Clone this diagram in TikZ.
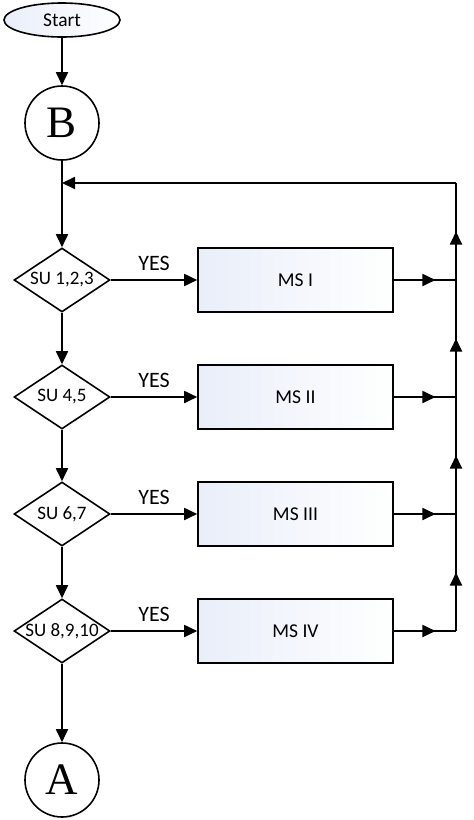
\documentclass[tikz,border=0pt]{standalone}
\usepackage{fontspec}
\setmainfont{Carlito}
\newfontfamily\letterfont{Liberation Serif}
\usetikzlibrary{shapes.geometric,arrows.meta,decorations.markings}
\definecolor{boxtop}{RGB}{233,238,249}

\begin{document}
\begin{tikzpicture}
      [
      x=0.5pt, y=-0.5pt,
      wire/.style={draw=black,line width=0.9pt},
      flow/.style={wire,-{Triangle[length=6.5pt,width=6pt]}},
      midflow/.style={wire,postaction={decorate},
        decoration={markings,mark=at position #1 with {\arrow{Triangle[length=6.5pt,width=6pt]}}}},
      terminal/.style={ellipse,draw,line width=0.8pt,left color=boxtop,right color=white,
        minimum width=58pt,minimum height=17pt,inner sep=0pt,font=\fontsize{9.7}{11}\selectfont},
      connector/.style={circle,draw,line width=0.8pt,fill=white,minimum size=37pt,inner sep=0pt,
        font=\letterfont\fontsize{22.5}{24}\selectfont},
      decision/.style={diamond,draw,line width=0.8pt,fill=white,minimum width=48pt,minimum height=32pt,inner sep=0pt},
      sutext/.style={font=\fontsize{9.5}{11}\selectfont,inner sep=0pt},
      process/.style={rectangle,draw,line width=0.8pt,left color=boxtop,right color=white,
        minimum width=97.5pt,minimum height=32pt,inner sep=0pt,font=\fontsize{9.8}{11}\selectfont},
      yes/.style={above=1pt,font=\fontsize{11}{13}\selectfont},
      ]
      \useasboundingbox (0,0) rectangle (474,820);
      % main column
      \node[terminal] (start) at (62,20) {Start};
      \node[connector] (b) at (62,123) {B};
      \node[decision,label={[sutext]center:{SU 1,2,3}}] (d1) at (62,280) {};
      \node[decision,label={[sutext]center:{SU 4,5}}] (d2) at (62,397) {};
      \node[decision,label={[sutext]center:{SU 6,7}}] (d3) at (62,514) {};
      \node[decision,label={[sutext]center:{SU 8,9,10}}] (d4) at (62,631) {};
      \node[connector] (a) at (62,780) {A};
      % mode boxes
      \node[process] (ms1) at (295.5,280) {MS I};
      \node[process] (ms2) at (295.5,397) {MS II};
      \node[process] (ms3) at (295.5,514) {MS III};
      \node[process] (ms4) at (295.5,631) {MS IV};
      % return line
      \coordinate (j1) at (456,280);
      \coordinate (j2) at (456,397);
      \coordinate (j3) at (456,514);
      \coordinate (j4) at (456,631);
      \coordinate (top) at (456,183);
      \coordinate (join) at (62,183);

      \draw[flow] (start) -- (b);
      \draw[flow] (b) -- (d1);
      \draw[flow] (d1) -- (d2);
      \draw[flow] (d2) -- (d3);
      \draw[flow] (d3) -- (d4);
      \draw[flow] (d4) -- (a);
      {
        \draw[flow] (d1) -- node[yes] {YES} (ms1);
        \draw[flow] (d2) -- node[yes] {YES} (ms2);
        \draw[flow] (d3) -- node[yes] {YES} (ms3);
        \draw[flow] (d4) -- node[yes] {YES} (ms4);
      }
      \draw[midflow=0.67] (ms1.east) -- (j1);
      \draw[midflow=0.67] (ms2.east) -- (j2);
      \draw[midflow=0.67] (ms3.east) -- (j3);
      \draw[midflow=0.67] (ms4.east) -- (j4);
      \draw[midflow=0.5] (j4) -- (j3);
      \draw[midflow=0.5] (j3) -- (j2);
      \draw[midflow=0.5] (j2) -- (j1);
      \draw[midflow=0.5] (j1) -- (top);
      \draw[flow] (top) -- (join);
    \end{tikzpicture}
\end{document}
